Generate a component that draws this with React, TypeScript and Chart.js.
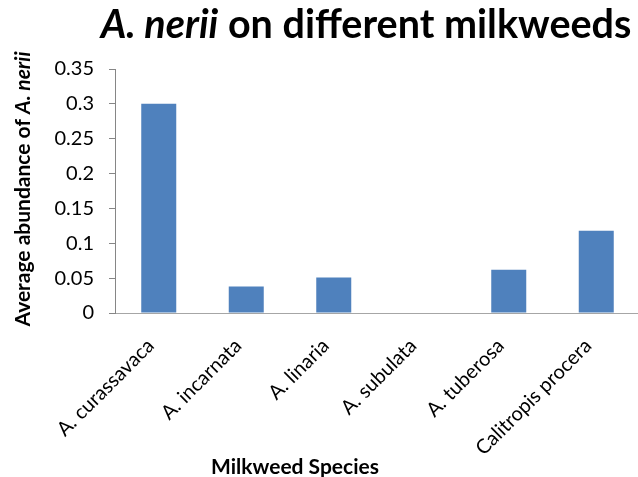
import React, { useEffect, useRef } from "react";
import { Chart, registerables } from "chart.js";

Chart.register(...registerables);

const categories = [
  "A. curassavaca",
  "A. incarnata",
  "A. linaria",
  "A. subulata",
  "A. tuberosa",
  "Calitropis procera",
];
const abundance = [0.3, 0.038, 0.051, 0, 0.062, 0.118];
const yMax = 0.35;
const yStep = 0.05;

const titleRuns = [
  { text: "A. nerii", italic: true },
  { text: " on different milkweeds", italic: false },
];
const yTitleRuns = [
  { text: "Average abundance of ", italic: false },
  { text: "A. nerii", italic: true },
];
const xTitleRuns = [{ text: "Milkweed Species", italic: false }];

const FAMILY = "Lato, 'DejaVu Sans', sans-serif";

type Run = { text: string; italic: boolean };

function drawRuns(
  ctx: CanvasRenderingContext2D,
  runs: Run[],
  size: number,
  weight: string,
  cx: number,
  cy: number,
  rotation: number
) {
  ctx.save();
  ctx.translate(cx, cy);
  ctx.rotate(rotation);
  ctx.fillStyle = "#000000";
  ctx.textBaseline = "alphabetic";
  ctx.textAlign = "left";
  const fonts = runs.map(
    (r) => `${r.italic ? "italic " : ""}${weight} ${size}px ${FAMILY}`
  );
  let total = 0;
  const widths = runs.map((r, i) => {
    ctx.font = fonts[i];
    const w = ctx.measureText(r.text).width;
    total += w;
    return w;
  });
  let x = -total / 2;
  runs.forEach((r, i) => {
    ctx.font = fonts[i];
    ctx.fillText(r.text, x, 0);
    x += widths[i];
  });
  ctx.restore();
}

const textPlugin = {
  id: "customTexts",
  afterDraw(chart: any) {
    const ctx = chart.ctx as CanvasRenderingContext2D;
    drawRuns(ctx, titleRuns, 39.5, "bold", 366, 38, 0);
    drawRuns(ctx, yTitleRuns, 21, "bold", 30, 189, -Math.PI / 2);
    drawRuns(ctx, xTitleRuns, 21, "bold", 295, 474, 0);
  },
};

export default function App() {
  const ref = useRef<HTMLCanvasElement | null>(null);

  useEffect(() => {
    if (!ref.current) return;
    const chart = new Chart(ref.current, {
      type: "bar",
      data: {
        labels: categories,
        datasets: [
          {
            data: abundance,
            backgroundColor: "#4F81BD",
            borderWidth: 0,
            barPercentage: 0.4,
            categoryPercentage: 1,
          },
        ],
      },
      options: {
        animation: false,
        responsive: false,
        maintainAspectRatio: false,
        layout: { padding: { left: 0, right: 2, top: 69, bottom: 0 } },
        plugins: {
          legend: { display: false },
          title: { display: false },
          tooltip: { enabled: false },
        },
        scales: {
          x: {
            grid: { display: false, drawTicks: false },
            border: { display: true, color: "#A6A6A6", width: 1 },
            ticks: {
              minRotation: 45,
              maxRotation: 45,
              padding: 21,
              labelOffset: -8,
              color: "#000000",
              font: { family: FAMILY, size: 20 },
            },
            afterFit(scale: any) {
              scale.height = 477 - 313;
            },
          },
          y: {
            min: 0,
            max: yMax,
            grid: {
              drawOnChartArea: false,
              drawTicks: true,
              tickLength: 6,
              color: "#868686",
            },
            border: { display: true, color: "#868686", width: 1 },
            ticks: {
              stepSize: yStep,
              padding: 15,
              color: "#000000",
              font: { family: FAMILY, size: 20 },
              callback: (v: any) => String(parseFloat(Number(v).toFixed(2))),
            },
            afterFit(scale: any) {
              scale.width = 115;
            },
          },
        },
      },
      plugins: [textPlugin],
    });
    return () => chart.destroy();
  }, []);

  return (
    <div
      style={{
        position: "fixed",
        left: 0,
        top: 0,
        width: 638,
        height: 477,
        overflow: "hidden",
        background: "#ffffff",
      }}
    >
      <canvas ref={ref} width={642} height={477} />
    </div>
  );
}
